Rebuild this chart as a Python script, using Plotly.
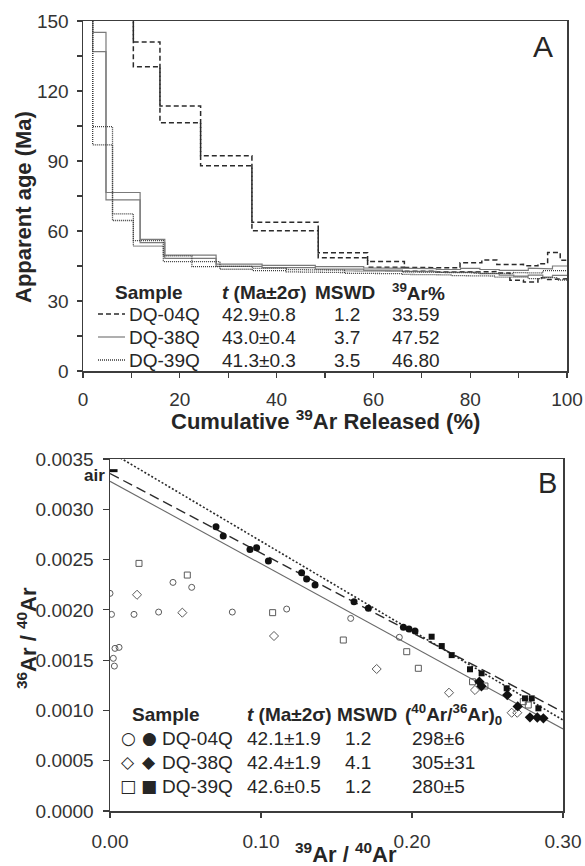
import plotly.graph_objects as go

# ---------------- Panel A data: age spectra ----------------
# cumulative 39Ar released (%) at end of each step, apparent age (Ma), 2-sigma error (Ma)
dq04_end = [10.4, 15.9, 24.3, 34.9, 48.6, 58.8, 66.4, 72.3, 77.9, 82.4, 85.5, 88.2, 91.0, 94.0, 96.0, 98.6, 100]
dq04_age = [175.0, 135.7, 110.0, 90.1, 61.9, 49.6, 45.7, 43.6, 43.3, 44.5, 45.1, 43.8, 42.3, 41.6, 43.0, 45.0, 43.5]
dq04_err = [6.0, 5.3, 3.6, 2.1, 1.8, 1.1, 1.2, 0.8, 0.9, 1.9, 2.5, 1.8, 3.4, 3.5, 3.0, 5.8, 4.0]

dq38_end = [2.0, 4.75, 11.8, 16.9, 27.5, 37.0, 48.0, 58.0, 66.0, 73.0, 78.0, 82.0, 86.0, 89.0, 92.0, 95.0, 97.0, 100]
dq38_age = [175.0, 141.0, 74.9, 55.7, 49.0, 45.3, 44.8, 44.2, 43.7, 43.3, 42.9, 43.2, 42.6, 42.1, 41.9, 42.6, 42.0, 43.0]
dq38_err = [6.0, 4.1, 1.6, 0.7, 0.7, 0.5, 0.5, 0.5, 0.5, 0.6, 0.6, 0.8, 0.9, 1.0, 1.2, 1.5, 1.8, 2.0]

dq39_end = [2.0, 6.1, 10.4, 16.6, 22.5, 28.3, 35.0, 42.0, 48.0, 54.0, 60.0, 66.0, 71.0, 76.0, 81.0, 85.0, 89.0, 92.0, 95.0, 98.0, 100]
dq39_age = [175.0, 100.8, 65.9, 54.7, 48.1, 45.8, 44.2, 43.5, 43.0, 42.7, 42.4, 42.2, 41.9, 41.7, 41.5, 41.3, 41.0, 41.2, 40.8, 41.5, 41.0]
dq39_err = [6.0, 3.9, 1.4, 1.2, 1.2, 1.1, 0.6, 0.5, 0.5, 0.5, 0.5, 0.5, 0.5, 0.5, 0.6, 0.6, 0.8, 1.0, 1.2, 1.5, 2.0]

table_a_header = ["Sample", "<i>t</i> (Ma±2σ)", "MSWD", "<sup>39</sup>Ar%"]
table_a_names = ["DQ-04Q", "DQ-38Q", "DQ-39Q"]
table_a_t = ["42.9±0.8", "43.0±0.4", "41.3±0.3"]
table_a_mswd = ["1.2", "3.7", "3.5"]
table_a_ar = ["33.59", "47.52", "46.80"]

# ---------------- Panel B data: inverse isochrons ----------------
# filled = used in regression, open = excluded
dq04_fx = [0.0702, 0.0750, 0.0927, 0.0971, 0.1049, 0.1269, 0.1302, 0.1358, 0.1616, 0.1711, 0.1943, 0.1980, 0.2020]
dq04_fy = [0.002826, 0.002734, 0.002601, 0.002618, 0.002485, 0.002369, 0.002306, 0.002247, 0.002080, 0.002015, 0.001826, 0.001810, 0.001790]
dq04_ox = [0.0000, 0.0010, 0.0159, 0.0322, 0.0417, 0.0541, 0.0810, 0.1170, 0.1594, 0.1916, 0.0022, 0.0033, 0.0060, 0.0029]
dq04_oy = [0.002164, 0.001955, 0.001955, 0.001978, 0.002273, 0.002224, 0.001978, 0.002008, 0.001915, 0.001727, 0.001518, 0.001617, 0.001627, 0.001441]

dq38_fx = [0.2446, 0.2460, 0.2631, 0.2700, 0.2781, 0.2830, 0.2870]
dq38_fy = [0.001285, 0.001240, 0.001153, 0.001040, 0.000931, 0.000930, 0.000921]
dq38_ox = [0.0179, 0.0479, 0.1086, 0.1766, 0.2245, 0.2417, 0.2660, 0.2697]
dq38_oy = [0.002150, 0.001972, 0.001740, 0.001412, 0.001176, 0.001203, 0.000977, 0.000977]

dq39_fx = [0.2130, 0.2197, 0.2263, 0.2384, 0.2461, 0.2627, 0.2748, 0.2793, 0.2837]
dq39_fy = [0.001733, 0.001640, 0.001550, 0.001409, 0.001369, 0.001220, 0.001120, 0.001120, 0.001021]
dq39_ox = [0.0192, 0.0512, 0.1077, 0.1545, 0.1965, 0.2042, 0.2401, 0.2483, 0.2737, 0.2770]
dq39_oy = [0.002462, 0.002346, 0.001972, 0.001700, 0.001584, 0.001419, 0.001285, 0.001243, 0.001087, 0.001054]

# isochron regressions: trapped (40Ar/36Ar)0 and 39Ar/40Ar intercept
iso_trapped = [298.0, 305.0, 280.0]
iso_xint = [0.4243, 0.3994, 0.4017]
air_ratio = 295.5

table_b_names = ["DQ-04Q", "DQ-38Q", "DQ-39Q"]
table_b_t = ["42.1±1.9", "42.4±1.9", "42.6±0.5"]
table_b_mswd = ["1.2", "4.1", "1.2"]
table_b_r0 = ["298±6", "305±31", "280±5"]

FONT = "Liberation Sans, Arial, sans-serif"
TXT = "#262626"
W, H = 585, 866


def px(x):
    return x / W


def py(y):
    return 1 - y / H


def step_env(ends, ages, errs, sign):
    xs, ys = [], []
    start = 0.0
    for e, a, s in zip(ends, ages, errs):
        xs += [start, e]
        ys += [a + sign * s, a + sign * s]
        start = e
    return xs, ys


fig = go.Figure()

styles_a = [
    (dq04_end, dq04_age, dq04_err, dict(color="#2b2b2b", width=1.5, dash="5px,3px")),
    (dq38_end, dq38_age, dq38_err, dict(color="#7a7a7a", width=1.2, dash="solid")),
    (dq39_end, dq39_age, dq39_err, dict(color="#3a3a3a", width=1.3, dash="1px,1px")),
]
for ends, ages, errs, ln in styles_a:
    for sign in (1, -1):
        xs, ys = step_env(ends, ages, errs, sign)
        fig.add_trace(go.Scatter(x=xs, y=ys, mode="lines", line=ln, xaxis="x", yaxis="y",
                                 showlegend=False, hoverinfo="skip"))

# Panel B regression lines
line_styles_b = [
    dict(color="#2b2b2b", width=1.4, dash="10px,5px"),
    dict(color="#6a6a6a", width=1.1, dash="solid"),
    dict(color="#2b2b2b", width=1.6, dash="2px,2px"),
]
for r0, xi, ln in zip(iso_trapped, iso_xint, line_styles_b):
    y0 = 1.0 / r0
    slope = -y0 / xi
    fig.add_trace(go.Scatter(x=[0, 0.30], y=[y0, y0 + slope * 0.30], mode="lines", line=ln,
                             xaxis="x2", yaxis="y2", showlegend=False, hoverinfo="skip"))

# air value
fig.add_trace(go.Scatter(x=[0, 0.005], y=[1 / air_ratio, 1 / air_ratio], mode="lines",
                         line=dict(color="#111", width=3), xaxis="x2", yaxis="y2",
                         showlegend=False, hoverinfo="skip"))

open_line = dict(color="#5a5a5a", width=1)
pts = [
    (dq04_ox, dq04_oy, "circle-open", 6, open_line, "#5a5a5a"),
    (dq38_ox, dq38_oy, "diamond-open", 7, open_line, "#5a5a5a"),
    (dq39_ox, dq39_oy, "square-open", 6, open_line, "#5a5a5a"),
    (dq04_fx, dq04_fy, "circle", 7, dict(width=0), "#111"),
    (dq38_fx, dq38_fy, "diamond", 8, dict(width=0), "#111"),
    (dq39_fx, dq39_fy, "square", 6, dict(width=0), "#111"),
]
for xs, ys, sym, size, mline, col in pts:
    fig.add_trace(go.Scatter(x=xs, y=ys, mode="markers",
                             marker=dict(symbol=sym, size=size, color=col, line=mline),
                             xaxis="x2", yaxis="y2", showlegend=False, hoverinfo="skip"))

axis_common = dict(showgrid=False, zeroline=False, showline=True, linecolor="#3c3c3c", linewidth=1.5,
                   mirror=True, ticks="outside", ticklen=5, tickcolor="#3c3c3c", tickwidth=1.2,
                   automargin=False,
                   tickfont=dict(family=FONT, size=19, color="#333"))

fig.update_layout(
    template="none",
    width=W, height=H, autosize=False,
    margin=dict(l=0, r=0, t=0, b=0, pad=0),
    paper_bgcolor="white", plot_bgcolor="white",
    xaxis=dict(axis_common, domain=[px(83), px(567)], anchor="y", range=[0, 100],
               tick0=0, dtick=20, minor=dict(dtick=10, ticks="outside", ticklen=5, tickcolor="#3c3c3c"),
               ticklabelstandoff=6),
    yaxis=dict(axis_common, domain=[py(371), py(21)], anchor="x", range=[0, 150],
               tick0=0, dtick=30, minor=dict(dtick=15, ticks="outside", ticklen=5, tickcolor="#3c3c3c"),
               ticklabelstandoff=4),
    xaxis2=dict(axis_common, domain=[px(110), px(563)], anchor="y2", range=[0, 0.30],
                tick0=0, dtick=0.1, tickformat=".2f", ticklabelstandoff=8),
    yaxis2=dict(axis_common, domain=[py(811), py(459)], anchor="x2", range=[0, 0.0035],
                tick0=0, dtick=0.0005, tickformat=".4f", ticklen=6, ticklabelstandoff=5),
)

ann = []


def add_text(x, y, text, size=19, bold=False, xanchor="left", angle=0, color=TXT, family=FONT):
    t = f"<b>{text}</b>" if bold else text
    ann.append(dict(x=px(x), y=py(y), xref="paper", yref="paper", text=t, showarrow=False,
                    xanchor=xanchor, yanchor="middle", textangle=angle,
                    font=dict(family=family, size=size, color=color)))


# axis titles
add_text(23, 207, "Apparent age (Ma)", size=22, bold=True, xanchor="center", angle=-90)
add_text(325, 420, "Cumulative <sup>39</sup>Ar Released (%)", size=22, bold=True, xanchor="center")
add_text(27, 638, "<sup>36</sup>Ar / <sup>40</sup>Ar", size=22, bold=True, xanchor="center", angle=-90)
add_text(346, 853, "<sup>39</sup>Ar / <sup>40</sup>Ar", size=22, bold=True, xanchor="center")

# panel labels
add_text(543, 46, "A", size=30, xanchor="center")
add_text(547, 483, "B", size=29, xanchor="center")
add_text(107, 475, "air", size=17, bold=True, xanchor="right")

# table A
rows_a = [314, 337, 360]
add_text(113, 292, table_a_header[0], bold=True)
add_text(220, 292, table_a_header[1], bold=True)
add_text(313, 292, table_a_header[2], bold=True)
add_text(390, 292, table_a_header[3], bold=True)
for i, yy in enumerate(rows_a):
    add_text(127, yy, table_a_names[i])
    add_text(220, yy, table_a_t[i])
    add_text(347, yy, table_a_mswd[i], xanchor="center")
    add_text(390, yy, table_a_ar[i])

# table B
rows_b = [738, 762, 786]
add_text(130, 714, "Sample", bold=True)
add_text(245, 714, "<i>t</i> (Ma±2σ)", bold=True)
add_text(335, 714, "MSWD", bold=True)
add_text(403, 714, "(<sup>40</sup>Ar/<sup>36</sup>Ar)<sub>0</sub>", bold=True)
sym_open = ["○", "◇", "□"]
sym_fill = ["●", "◆", "■"]
for i, yy in enumerate(rows_b):
    add_text(128, yy, sym_open[i], size=17, xanchor="center", family="DejaVu Sans")
    add_text(149, yy, sym_fill[i], size=17, xanchor="center", family="DejaVu Sans")
    add_text(160, yy, table_b_names[i])
    add_text(245, yy, table_b_t[i])
    add_text(343, yy, table_b_mswd[i])
    add_text(410, yy, table_b_r0[i])

fig.update_layout(annotations=ann)

# legend line samples for panel A
shapes = []
for yy, ln in zip(rows_a, [s[3] for s in styles_a]):
    shapes.append(dict(type="line", xref="paper", yref="paper", x0=px(98), x1=px(125),
                       y0=py(yy), y1=py(yy), line=ln))
fig.update_layout(shapes=shapes)

fig.write_html("out.html", config={"displayModeBar": False, "staticPlot": True},
               post_script="document.body.style.margin='0px';document.body.style.overflow='hidden';")
